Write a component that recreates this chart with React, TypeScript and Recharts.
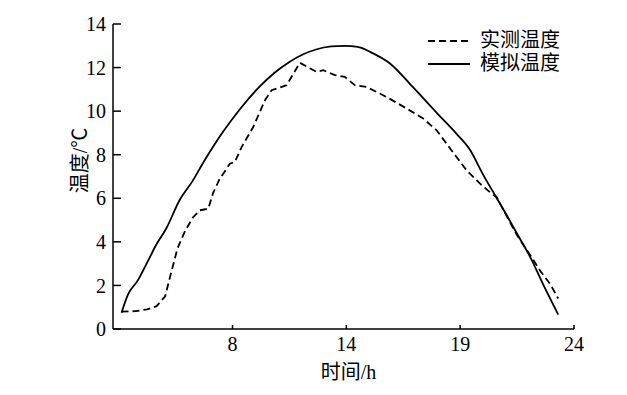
import { LineChart, Line, XAxis, YAxis, Legend, Label } from "recharts";

// x positions on the plotted time axis (tick marks sit at 6, 12, 18, 24)
const tickPositions = [6, 12, 18, 24];
const tickLabels = ["8", "14", "19", "24"];
const yTicks = [0, 2, 4, 6, 8, 10, 12, 14];

// 实测温度 (measured)
const measuredX = [
  0.15, 0.9, 1.5, 2.0, 2.45, 2.7, 3.1, 3.5, 3.92, 4.28, 4.72, 4.98, 5.3, 5.86,
  6.12, 6.48, 7.09, 7.71, 8.06, 8.85, 9.55, 10.43, 10.78, 11.4, 11.92, 12.45,
  13.07, 14.12, 15.18, 16.05, 16.76, 17.46, 18.34, 19.05, 19.66, 19.93, 20.5,
  21.0, 21.77, 22.21, 22.74, 23.17,
];
const measuredY = [
  0.8, 0.82, 0.9, 1.05, 1.5, 2.37, 3.7, 4.5, 5.13, 5.45, 5.52, 6.25, 6.85, 7.59,
  7.66, 8.35, 9.27, 10.5, 10.96, 11.19, 12.22, 11.8, 11.88, 11.65, 11.57, 11.19,
  11.11, 10.65, 10.12, 9.66, 9.12, 8.3, 7.28, 6.67, 6.21, 6.05, 5.1, 4.3, 3.29,
  2.68, 2.07, 1.4,
];

// 模拟温度 (simulated)
const simulatedX = [
  0.15, 0.5, 1.0, 1.5, 2.0, 2.5, 3.2, 3.9, 4.5, 5.0, 5.5, 6.4, 7.4, 8.2, 9.0,
  9.7, 10.4, 11.2, 11.9, 12.6, 13.3, 14.3, 15.5, 16.8, 17.8, 18.5, 19.2, 19.9,
  20.5, 21.0, 21.7, 22.4, 23.17,
];
const simulatedY = [
  0.75, 1.6, 2.22, 3.05, 3.9, 4.6, 5.9, 6.8, 7.7, 8.4, 9.05, 10.1, 11.1, 11.75,
  12.26, 12.6, 12.83, 12.97, 13.0, 12.95, 12.7, 12.19, 11.11, 9.89, 8.97, 8.25,
  7.1, 6.05, 5.15, 4.37, 3.29, 2.0, 0.66,
];

const measured = measuredX.map((x, i) => ({ x, y: measuredY[i] }));
const simulated = simulatedX.map((x, i) => ({ x, y: simulatedY[i] }));

const font = "Liberation Serif, Noto Sans CJK SC, serif";
const dashes: Record<string, string | undefined> = {
  实测温度: "7 4",
  模拟温度: undefined,
};

const renderLegend = (props: any) => {
  const { payload = [] } = props;
  return (
    <div style={{ fontFamily: font, fontSize: 20, color: "#000" }}>
      {payload.map((entry: any) => (
        <div
          key={entry.value}
          style={{ display: "flex", alignItems: "center", height: 23 }}
        >
          <svg width={42} height={4}>
            <line
              x1={0}
              y1={2}
              x2={42}
              y2={2}
              stroke="#000"
              strokeWidth={1.8}
              strokeDasharray={dashes[entry.value]}
            />
          </svg>
          <span style={{ marginLeft: 10, lineHeight: "23px" }}>{entry.value}</span>
        </div>
      ))}
    </div>
  );
};

const App = () => {
  return (
    <div style={{ fontFamily: font }}>
      <LineChart
        width={627}
        height={395}
        margin={{ top: 16, right: 61, left: 45, bottom: 34 }}
        style={{ fontFamily: font }}
      >
        <XAxis
          type="number"
          dataKey="x"
          domain={[-0.3, 24]}
          ticks={tickPositions}
          tickFormatter={(v: number) => tickLabels[tickPositions.indexOf(v)] ?? ""}
          height={40}
          allowDataOverflow
          stroke="#000"
          strokeWidth={1.5}
          tickSize={-4}
          tickMargin={12}
          tick={{ fill: "#000", fontSize: 20, fontFamily: font }}
        >
          <Label
            content={({ viewBox }: any) => (
              <text
                x={viewBox.x + viewBox.width / 2 + 5}
                y={viewBox.y + 50}
                textAnchor="middle"
                fontSize={20}
                fontFamily={font}
                fill="#000"
              >
                时间/h
              </text>
            )}
          />
        </XAxis>
        <YAxis
          type="number"
          domain={[0, 14]}
          ticks={yTicks}
          width={60}
          stroke="#000"
          strokeWidth={1.5}
          tickSize={-8}
          tickMargin={15}
          tick={{ fill: "#000", fontSize: 20, fontFamily: font }}
        >
          <Label
            content={({ viewBox }: any) => {
              const cx = viewBox.x + 27;
              const cy = viewBox.y + viewBox.height / 2 - 16;
              return (
                <text
                  x={cx}
                  y={cy}
                  transform={`rotate(-90, ${cx}, ${cy})`}
                  textAnchor="middle"
                  dominantBaseline="central"
                  fontSize={20}
                  fontFamily={font}
                  fill="#000"
                >
                  温度/℃
                </text>
              );
            }}
          />
        </YAxis>
        <Legend
          layout="vertical"
          align="center"
          verticalAlign="middle"
          content={renderLegend}
          wrapperStyle={{ left: 420, top: 21, width: 170, height: 46 }}
        />
        <Line
          data={measured}
          dataKey="y"
          name="实测温度"
          type="linear"
          stroke="#000"
          strokeWidth={1.8}
          strokeDasharray="7 4"
          dot={false}
          isAnimationActive={false}
        />
        <Line
          data={simulated}
          dataKey="y"
          name="模拟温度"
          type="monotone"
          stroke="#000"
          strokeWidth={1.8}
          dot={false}
          isAnimationActive={false}
        />
      </LineChart>
    </div>
  );
};

export default App;
